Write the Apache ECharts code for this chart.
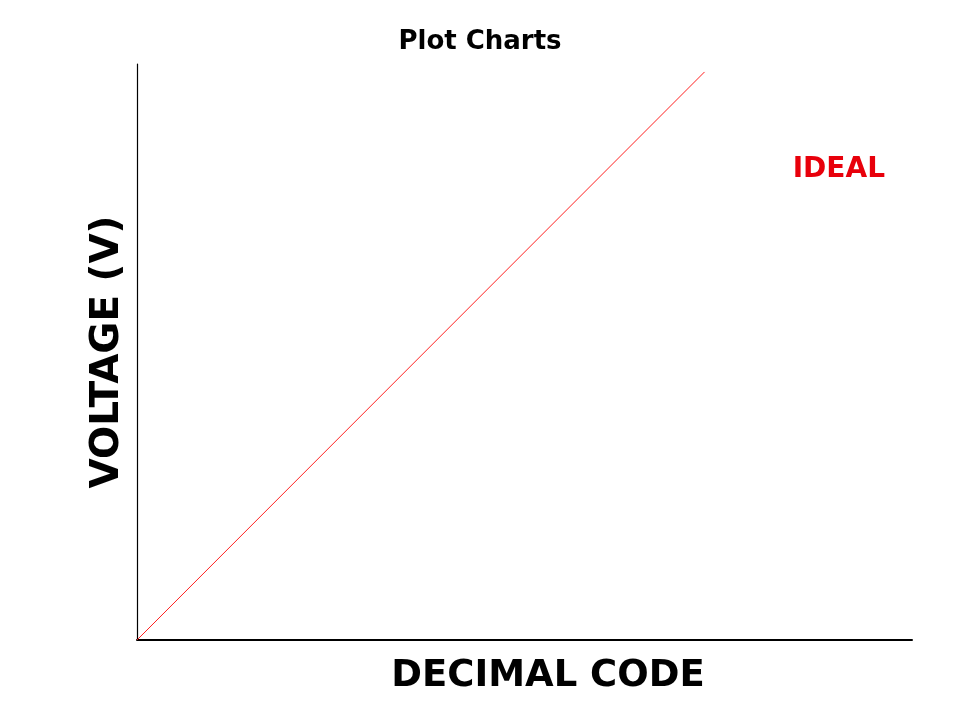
<!DOCTYPE html>
<html>
<head>
<meta charset="utf-8">
<script src="https://cdn.jsdelivr.net/npm/echarts@6/dist/echarts.min.js"></script>
<style>html,body{margin:0;padding:0;background:#fff}#c{width:960px;height:720px}</style>
</head>
<body>
<div id="c"></div>
<script>
const titleText = "Plot Charts";
const xName = "DECIMAL CODE";
const yName = "VOLTAGE (V)";
const seriesName = "IDEAL";
const idealCodes = [0, 1023];
const idealVolts = [0, 5];
const xMax = 1397;
const yMax = 5.07;

const chart = echarts.init(document.getElementById('c'));
chart.setOption({
  animation: false,
  backgroundColor: '#fff',
  title: {
    text: titleText, left: 'center', top: 24,
    textStyle: { fontFamily: 'DejaVu Sans', fontWeight: 'bold', fontSize: 26, color: '#000' }
  },
  legend: {
    data: [seriesName], right: 70, top: 151, icon: 'none', itemWidth: 0, itemGap: 0,
    textStyle: { fontFamily: 'DejaVu Sans', fontWeight: 'bold', fontSize: 28, color: '#e8000b' }
  },
  grid: { left: 137, right: 48, top: 64, bottom: 80 },
  xAxis: {
    type: 'value', min: 0, max: xMax,
    name: xName, nameLocation: 'middle', nameGap: 18,
    nameTextStyle: { fontFamily: 'DejaVu Sans', fontWeight: 'bold', fontSize: 37, color: '#000', padding: [0, 0, 0, 47] },
    axisLine: { show: true, lineStyle: { color: '#000', width: 2 } },
    axisTick: { show: false }, axisLabel: { show: false }, splitLine: { show: false }
  },
  yAxis: {
    type: 'value', min: 0, max: yMax,
    name: yName, nameLocation: 'middle', nameGap: 10, nameRotate: 90,
    nameTextStyle: { fontFamily: 'DejaVu Sans', fontWeight: 'bold', fontSize: 39, color: '#000' },
    axisLine: { show: true, lineStyle: { color: '#000', width: 1.2 } },
    axisTick: { show: false }, axisLabel: { show: false }, splitLine: { show: false }
  },
  series: [{
    name: seriesName, type: 'line', showSymbol: false, symbol: 'none',
    data: idealCodes.map((c, i) => [c, idealVolts[i]]),
    lineStyle: { color: '#ff2020', width: 1 },
    itemStyle: { color: '#e8000b' }
  }]
});
</script>
</body>
</html>
